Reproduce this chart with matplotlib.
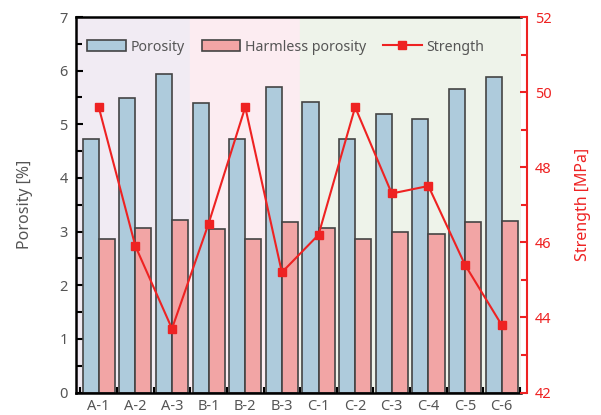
import numpy as np
import matplotlib.pyplot as plt
from matplotlib.ticker import MultipleLocator

plt.rcParams['font.family'] = ['Noto Sans', 'DejaVu Sans']

samples = ['A-1', 'A-2', 'A-3', 'B-1', 'B-2', 'B-3',
           'C-1', 'C-2', 'C-3', 'C-4', 'C-5', 'C-6']
porosity = [4.73, 5.49, 5.94, 5.40, 4.73, 5.69, 5.42, 4.73, 5.19, 5.10, 5.66, 5.89]
harmless = [2.86, 3.06, 3.21, 3.04, 2.86, 3.17, 3.06, 2.86, 2.99, 2.95, 3.17, 3.20]
strength = [49.6, 45.9, 43.7, 46.5, 49.6, 45.2, 46.2, 49.6, 47.3, 47.5, 45.4, 43.8]

grey = '#555555'
red = '#ee2222'
blue = '#aecbdc'
pink = '#f2a5a5'

fig = plt.figure(figsize=(6.01, 4.15), dpi=100)
ax = fig.add_axes([0.1265, 0.0542, 0.7405, 0.9048])

x = np.arange(len(samples))
w = 0.44

# group backgrounds
ax.axvspan(-1, 2.5, color='#f1ebf3', zorder=0)
ax.axvspan(2.5, 5.5, color='#fcecf1', zorder=0)
ax.axvspan(5.5, 12, color='#eef3ea', zorder=0)

b1 = ax.bar(x - w / 2, porosity, w, color=blue, edgecolor='#444444', linewidth=1.2,
            label='Porosity', zorder=2)
b2 = ax.bar(x + w / 2, harmless, w, color=pink, edgecolor='#444444', linewidth=1.2,
            label='Harmless porosity', zorder=2)

ax.set_xlim(-0.62, 11.53)
ax.set_ylim(0, 7)
ax.set_xticks(x)
ax.set_xticklabels(samples)
ax.xaxis.set_minor_locator(MultipleLocator(0.5))
ax.yaxis.set_minor_locator(MultipleLocator(0.5))
ax.tick_params(axis='both', which='both', direction='in', colors='black',
               labelcolor=grey, labelsize=10.5, width=1.5, pad=6)
ax.tick_params(axis='x', which='both', pad=5)
ax.tick_params(axis='both', which='major', length=5)
ax.tick_params(axis='both', which='minor', length=4)
ax.tick_params(axis='y', which='both', right=False)
ax.tick_params(axis='x', which='both', top=False)
for s in ['left', 'bottom', 'top']:
    ax.spines[s].set_linewidth(1.8)
ax.spines['right'].set_visible(False)
ax.set_ylabel('Porosity [%]', color=grey, fontsize=11.5, labelpad=19)

ax2 = ax.twinx()
ln, = ax2.plot(x, strength, color=red, marker='s', markersize=6, linewidth=1.5,
               label='Strength', zorder=3)
ax2.set_ylim(42, 52)
ax2.yaxis.set_major_locator(MultipleLocator(2))
ax2.yaxis.set_minor_locator(MultipleLocator(1))
ax2.spines['right'].set_position(('outward', 4))
ax2.spines['right'].set_color(red)
ax2.spines['right'].set_linewidth(1.5)
for s in ['left', 'bottom', 'top']:
    ax2.spines[s].set_visible(False)
ax2.tick_params(axis='y', which='both', direction='in', colors=red,
                labelcolor=red, labelsize=10.5, width=1.5, pad=6)
ax2.tick_params(axis='y', which='major', length=5)
ax2.tick_params(axis='y', which='minor', length=4)
ax2.set_ylabel('Strength [MPa]', color=red, fontsize=11.5, labelpad=17)

ax.legend([b1, b2, ln], ['Porosity', 'Harmless porosity', 'Strength'],
          loc='center left', bbox_to_anchor=(0.0, 0.92), ncol=3, frameon=False,
          fontsize=10.2, labelcolor=grey, handlelength=2.7, handleheight=0.8,
          columnspacing=1.2, handletextpad=0.35, borderaxespad=0.4)

fig.savefig('out.png', dpi=100)
